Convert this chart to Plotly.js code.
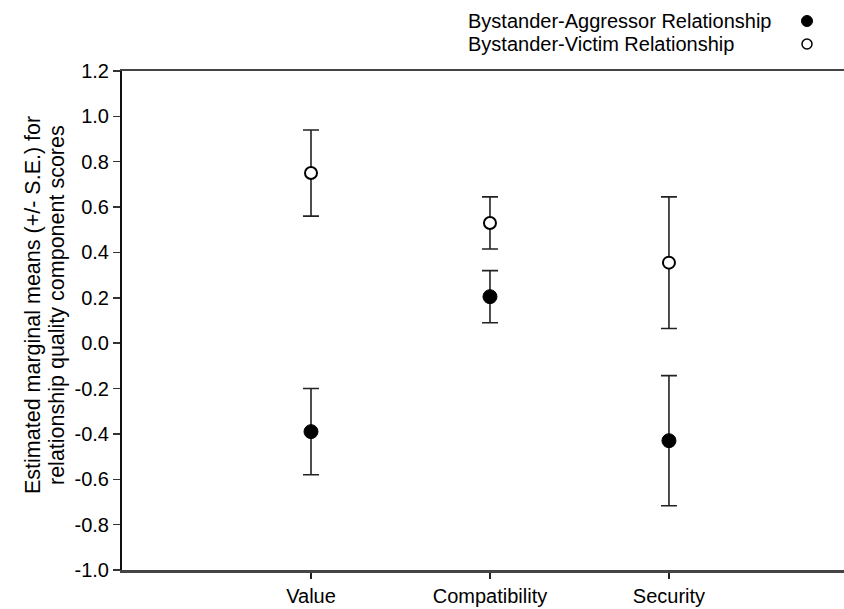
<!DOCTYPE html>
<html>
<head>
<meta charset="utf-8">
<script src="https://cdn.plot.ly/plotly-3.0.1.min.js"></script>
<style>html,body{margin:0;padding:0;background:#fff;}#chart{width:844px;height:609px;}</style>
</head>
<body>
<div id="chart"></div>
<script>
const categories = ["Value", "Compatibility", "Security"];
const aggressorMeans = [-0.39, 0.205, -0.43];
const aggressorSE = [0.19, 0.115, 0.287];
const victimMeans = [0.75, 0.53, 0.355];
const victimSE = [0.19, 0.115, 0.29];
const seriesNames = ["Bystander-Aggressor Relationship", "Bystander-Victim Relationship"];
const yTicks = [1.2, 1.0, 0.8, 0.6, 0.4, 0.2, 0.0, -0.2, -0.4, -0.6, -0.8, -1.0];
const yTitle = ["Estimated marginal means (+/- S.E.) for", "relationship quality component scores"];

const font = "Liberation Sans, Arial, sans-serif";
const errStyle = (arr) => ({type: "data", array: arr, visible: true, color: "#222", thickness: 1.6, width: 8});

const traces = [
  {
    x: categories, y: aggressorMeans, type: "scatter", mode: "markers", name: seriesNames[0],
    error_y: errStyle(aggressorSE),
    marker: {symbol: "circle", size: 14, color: "#000", line: {color: "#000", width: 1}},
    cliponaxis: false
  },
  {
    x: categories, y: victimMeans, type: "scatter", mode: "markers", name: seriesNames[1],
    error_y: errStyle(victimSE),
    marker: {symbol: "circle", size: 12, color: "#fff", line: {color: "#000", width: 2}},
    cliponaxis: false
  }
];

const L = 122, T = 71, W = 844 - 122, H = 499;
const px = (x) => (x - L) / W;
const py = (y) => (T + H - y) / H;

const layout = {
  width: 844, height: 609,
  margin: {l: L, r: 0, t: T, b: 609 - T - H, pad: 0},
  paper_bgcolor: "#fff", plot_bgcolor: "#fff",
  showlegend: false,
  font: {family: font, size: 20, color: "#000"},
  xaxis: {
    type: "category", range: [-1.056, 2.978],
    showgrid: false, zeroline: false,
    showline: true, linecolor: "#444", linewidth: 2.5, mirror: true,
    ticks: "outside", ticklen: 6, tickwidth: 1.2, tickcolor: "#222",
    tickfont: {family: font, size: 20, color: "#000"},
    fixedrange: true
  },
  yaxis: {
    range: [-1.0, 1.2], showgrid: false, zeroline: false,
    showline: true, linecolor: "#111", linewidth: 2,
    ticks: "outside", ticklen: 7, tickwidth: 1.5, tickcolor: "#333",
    tickvals: yTicks, ticktext: yTicks.map(v => v.toFixed(1)),
    tickfont: {family: font, size: 20, color: "#000"},
    fixedrange: true
  },
  annotations: [
    {text: yTitle[0], xref: "paper", yref: "paper", x: px(33), y: py(305),
     xanchor: "center", yanchor: "middle", textangle: -90, showarrow: false,
     font: {family: font, size: 21.5, color: "#000"}},
    {text: yTitle[1], xref: "paper", yref: "paper", x: px(57), y: py(305),
     xanchor: "center", yanchor: "middle", textangle: -90, showarrow: false,
     font: {family: font, size: 21.5, color: "#000"}},
    {text: seriesNames[0], xref: "paper", yref: "paper", x: px(466), y: py(21),
     xanchor: "left", yanchor: "middle", showarrow: false, font: {family: font, size: 20, color: "#000"}},
    {text: seriesNames[1], xref: "paper", yref: "paper", x: px(466), y: py(44),
     xanchor: "left", yanchor: "middle", showarrow: false, font: {family: font, size: 20, color: "#000"}}
  ],
  shapes: [
    {type: "circle", xref: "paper", yref: "paper", xsizemode: "pixel", ysizemode: "pixel",
     xanchor: px(807), yanchor: py(21), x0: -5.5, x1: 5.5, y0: -5.5, y1: 5.5,
     fillcolor: "#000", line: {color: "#000", width: 1}},
    {type: "circle", xref: "paper", yref: "paper", xsizemode: "pixel", ysizemode: "pixel",
     xanchor: px(807), yanchor: py(44), x0: -5, x1: 5, y0: -5, y1: 5,
     fillcolor: "#fff", line: {color: "#000", width: 1.5}}
  ]
};

Plotly.newPlot("chart", traces, layout, {displayModeBar: false, staticPlot: true});
</script>
</body>
</html>
